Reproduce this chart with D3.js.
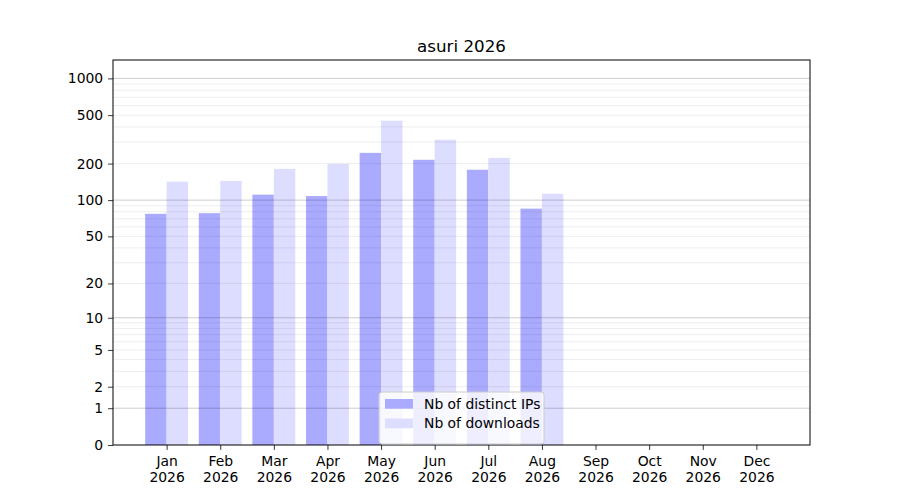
<!DOCTYPE html>
<html>
	<head>
		<meta charset="utf-8">
		<title>asuri 2026</title>
		<script src="https://d3js.org/d3.v7.min.js"></script>
		<style type="text/css">
			body {margin: 0; background: #fff;}
			text {font-family: 'DejaVu Sans', sans-serif; fill: #000;}
		</style>
	</head>
	<body>
		<svg width=900 height=500></svg>
	</body>
	<script type="text/javascript">
		var months = ["Jan", "Feb", "Mar", "Apr", "May", "Jun", "Jul", "Aug", "Sep", "Oct", "Nov", "Dec"];
		var year = "2026";
		var distinctIPs = [77, 78, 111, 108, 245, 215, 178, 85];
		var downloads = [142, 144, 181, 199, 450, 314, 223, 113];
		var yTicks = [0, 1, 2, 5, 10, 20, 50, 100, 200, 500, 1000];
		var seriesNames = ["Nb of distinct IPs", "Nb of downloads"];
		var seriesColors = ["#aaaaff", "#ddddff"];

		var svg = d3.select("svg"),
		    margin = {top: 60, right: 90, bottom: 55, left: 113},
		    width = 900 - margin.left - margin.right,
		    height = 500 - margin.top - margin.bottom,
		    g = svg.append("g").attr("transform", "translate(" + margin.left + "," + margin.top + ")");

		// month index on a linear axis, one empty slot each side
		var x = d3.scaleLinear().domain([-1, 12]).range([0, width]);
		// log10(1 + v) scale
		var y = d3.scaleSymlog().constant(1).domain([0, 1415]).range([height, 0]);
		var barW = 0.4;

		// bars
		[distinctIPs, downloads].forEach(function(values, s) {
			g.append("g").selectAll("rect")
			  .data(values)
			  .enter().append("rect")
			    .attr("x", function(d, i) { return x(s === 0 ? i - barW : i); })
			    .attr("width", x(barW) - x(0))
			    .attr("y", function(d) { return y(d); })
			    .attr("height", function(d) { return y(0) - y(d); })
			    .attr("fill", seriesColors[s]);
		});

		// grid on top (bars look see-through)
		var minor = [];
		[1, 10, 100, 1000].forEach(function(p) {
			for (var k = 2; k <= 9; k++) if (p * k < 1415) minor.push(p * k);
		});
		g.append("g").selectAll("line")
		  .data(minor)
		  .enter().append("line")
		    .attr("x1", 0).attr("x2", width)
		    .attr("y1", function(d) { return y(d); })
		    .attr("y2", function(d) { return y(d); })
		    .attr("stroke", "#000").attr("stroke-opacity", 0.07);
		g.append("g").selectAll("line")
		  .data([1, 10, 100, 1000])
		  .enter().append("line")
		    .attr("x1", 0).attr("x2", width)
		    .attr("y1", function(d) { return y(d); })
		    .attr("y2", function(d) { return y(d); })
		    .attr("stroke", "#000").attr("stroke-opacity", 0.2);

		// axes
		var yAxis = g.append("g")
		    .call(d3.axisLeft(y).tickValues(yTicks).tickFormat(d3.format("d")).tickSize(4.9).tickPadding(4.9));
		var xAxis = g.append("g")
		    .attr("transform", "translate(0," + height + ")")
		    .call(d3.axisBottom(x).tickValues(d3.range(12)).tickSize(4.9).tickPadding(4.9).tickFormat(""));
		xAxis.selectAll(".tick").append("text")
		    .attr("text-anchor", "middle")
		    .attr("y", 21)
		    .each(function(d) {
		    	var t = d3.select(this);
		    	t.append("tspan").attr("x", 0).text(months[d]);
		    	t.append("tspan").attr("x", 0).attr("dy", 16).text(year);
		    });
		[yAxis, xAxis].forEach(function(a) {
			a.select(".domain").remove();
			a.selectAll("text").style("font-size", "13.9px").style("font-family", "'DejaVu Sans', sans-serif").attr("fill", "#000");
			a.selectAll("line").attr("stroke", "#000").attr("stroke-width", 0.8);
		});

		// frame
		g.append("rect")
		    .attr("width", width).attr("height", height)
		    .attr("fill", "none").attr("stroke", "#000").attr("stroke-width", 1);

		// title
		svg.append("text")
		    .attr("x", margin.left + width / 2).attr("y", 52)
		    .attr("text-anchor", "middle")
		    .style("font-size", "16.7px")
		    .text("asuri " + year);

		// legend, lower center
		var legW = 165, legH = 52;
		var leg = g.append("g").attr("transform", "translate(" + (width / 2 - legW / 2) + "," + (height - legH - 1) + ")");
		leg.append("rect")
		    .attr("width", legW).attr("height", legH).attr("rx", 3)
		    .attr("fill", "#fff").attr("fill-opacity", 0.8)
		    .attr("stroke", "#ccc").attr("stroke-width", 1);
		seriesNames.forEach(function(name, i) {
			leg.append("rect")
			    .attr("x", 6).attr("y", 7 + i * 19.5).attr("width", 28).attr("height", 9.7)
			    .attr("fill", seriesColors[i]);
			leg.append("text")
			    .attr("x", 45).attr("y", 16.5 + i * 19.5)
			    .style("font-size", "13.9px")
			    .text(name);
		});
	</script>
</html>
